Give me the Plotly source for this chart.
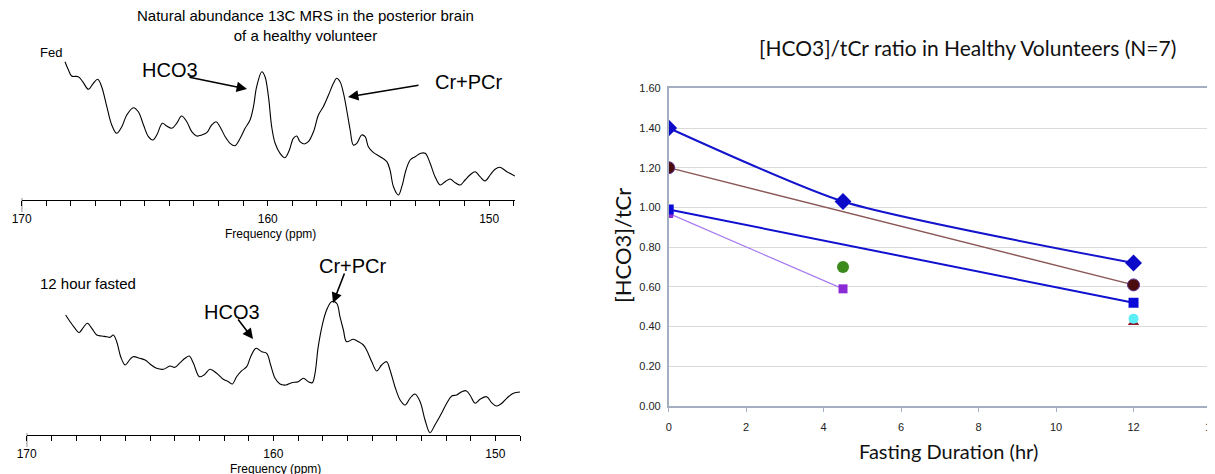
import plotly.graph_objects as go

W, H = 1215, 474
PAGE_OFFSET = 8  # default body margin of the html page

# ---------------- Data ----------------
# Fed spectrum (ppm, intensity in arbitrary units)
fed_ppm = [168.24, 168.10, 167.97, 167.70, 167.52, 167.29, 167.09, 166.91, 166.75, 166.54,
           166.34, 166.14, 165.93, 165.73, 165.46, 165.26, 165.05, 164.85, 164.67, 164.51,
           164.28, 164.11, 163.90, 163.70, 163.50, 163.29, 163.09, 162.89, 162.68, 162.48,
           162.28, 162.10, 161.94, 161.73, 161.53, 161.33, 161.12, 160.92, 160.72, 160.58,
           160.45, 160.24, 160.11, 159.97, 159.84, 159.70, 159.50, 159.30, 159.12, 158.96,
           158.82, 158.69, 158.52, 158.35, 158.14, 157.94, 157.74, 157.53, 157.33, 157.20,
           157.06, 156.92, 156.79, 156.65, 156.52, 156.38, 156.18, 156.04, 155.91, 155.70,
           155.43, 155.16, 155.03, 154.89, 154.69, 154.55, 154.38, 154.21, 154.01, 153.78,
           153.60, 153.40, 153.20, 152.99, 152.79, 152.59, 152.38, 152.18, 151.98, 151.78,
           151.57, 151.37, 151.17, 150.96, 150.76, 150.56, 150.28, 149.95]
fed_int = [138.3, 130.0, 124.0, 123.3, 118.3, 110.7, 116.7, 120.7, 113.3, 93.3,
           75.0, 66.7, 73.3, 85.0, 92.3, 88.3, 75.0, 63.3, 60.0, 65.0,
           76.7, 74.0, 71.7, 76.7, 84.0, 78.3, 68.3, 64.0, 65.0, 67.3,
           75.0, 78.3, 73.3, 63.3, 56.7, 54.3, 61.7, 71.7, 80.0, 93.3,
           113.3, 128.3, 123.3, 103.3, 73.3, 56.7, 46.7, 42.3, 50.0, 61.7,
           64.0, 58.3, 56.0, 58.3, 68.3, 85.0, 93.3, 105.0, 116.7, 121.7,
           118.3, 106.7, 90.0, 70.0, 55.0, 56.7, 65.0, 63.3, 53.3, 47.3,
           43.3, 38.3, 30.0, 13.3, 5.0, 13.3, 30.0, 40.0, 43.3, 46.7,
           46.7, 36.7, 23.3, 15.0, 18.3, 21.0, 17.3, 15.0, 20.0, 25.0,
           28.3, 23.3, 19.0, 25.0, 30.7, 32.7, 28.3, 24.0]

# 12 hour fasted spectrum
fast_ppm = [168.42, 168.24, 168.04, 167.88, 167.70, 167.54, 167.36, 167.16, 166.96, 166.76,
            166.62, 166.49, 166.35, 166.19, 166.01, 165.81, 165.68, 165.41, 165.20, 165.00,
            164.73, 164.46, 164.19, 163.99, 163.78, 163.58, 163.41, 163.24, 163.00, 162.81,
            162.57, 162.30, 162.03, 161.82, 161.66, 161.49, 161.28, 161.08, 160.92, 160.70,
            160.47, 160.27, 160.11, 159.93, 159.73, 159.49, 159.26, 158.99, 158.78, 158.58,
            158.42, 158.31, 158.18, 158.00, 157.84, 157.64, 157.43, 157.30, 157.16, 157.03,
            156.76, 156.55, 156.35, 156.22, 156.01, 155.81, 155.61, 155.41, 155.27, 155.07,
            154.86, 154.66, 154.46, 154.26, 154.05, 153.85, 153.65, 153.45, 153.18, 152.97,
            152.77, 152.57, 152.36, 152.19, 152.03, 151.82, 151.62, 151.35, 151.15, 150.95,
            150.74, 150.54, 150.27, 150.00]
fast_int = [120.0, 113.3, 106.7, 102.3, 107.7, 111.7, 106.7, 100.0, 99.0, 98.3,
            97.7, 100.0, 93.3, 78.3, 70.0, 75.7, 78.3, 76.7, 75.0, 71.0,
            66.7, 65.7, 69.0, 67.7, 72.3, 76.7, 79.0, 71.7, 58.3, 60.0,
            65.7, 61.7, 55.7, 53.3, 51.0, 58.3, 64.3, 68.3, 78.3, 86.7,
            83.3, 81.7, 70.0, 56.7, 51.0, 50.0, 52.3, 53.3, 56.7, 53.3,
            52.3, 61.7, 88.3, 111.7, 125.0, 133.3, 131.7, 118.3, 105.0, 93.3,
            95.7, 93.3, 90.0, 85.0, 73.3, 64.0, 70.0, 73.3, 65.0, 48.3,
            35.0, 30.0, 36.7, 41.0, 33.3, 15.0, 2.3, 10.0, 21.7, 31.7,
            39.0, 40.0, 43.3, 44.3, 40.0, 31.7, 35.7, 38.3, 32.3, 29.0,
            31.7, 36.7, 41.7, 43.0]

# Ratio chart
diamond_x = [0, 4.5, 12]
diamond_y = [1.40, 1.03, 0.72]
brown_x = [0, 12]
brown_y = [1.20, 0.61]
bluesq_x = [0, 12]
bluesq_y = [0.99, 0.52]
purple_x = [0, 4.5]
purple_y = [0.97, 0.59]
green_x = [4.5]
green_y = [0.70]
cyan_x = [12]
cyan_y = [0.44]
tri_x = [12]
tri_y = [0.42]

spec_ticks = list(range(150, 171))
spec_labels = {170: "170", 160: "160", 151: "150"}


def px(x):
    return (x - PAGE_OFFSET) / W


def py(y):
    return (H - (y - PAGE_OFFSET)) / H


fig = go.Figure()

# spectra
fig.add_trace(go.Scatter(x=fed_ppm, y=fed_int, mode="lines", xaxis="x", yaxis="y",
                         line=dict(color="black", width=1.1, shape="spline", smoothing=1.0),
                         showlegend=False, hoverinfo="skip"))
fig.add_trace(go.Scatter(x=fast_ppm, y=fast_int, mode="lines", xaxis="x2", yaxis="y2",
                         line=dict(color="black", width=1.1, shape="spline", smoothing=1.0),
                         showlegend=False, hoverinfo="skip"))

# ratio chart series
fig.add_trace(go.Scatter(x=tri_x, y=tri_y, mode="markers", xaxis="x3", yaxis="y3",
                         marker=dict(symbol="triangle-up", size=10, color="#8B1A2A"),
                         showlegend=False))
fig.add_trace(go.Scatter(x=purple_x, y=purple_y, mode="lines+markers", xaxis="x3", yaxis="y3",
                         line=dict(color="#A77BF0", width=1.2),
                         marker=dict(symbol="square", size=9, color="#8A2BD6"),
                         showlegend=False))
fig.add_trace(go.Scatter(x=bluesq_x, y=bluesq_y, mode="lines+markers", xaxis="x3", yaxis="y3",
                         line=dict(color="#1010D0", width=2),
                         marker=dict(symbol="square", size=10, color="#0A0AD8"),
                         showlegend=False))
fig.add_trace(go.Scatter(x=brown_x, y=brown_y, mode="lines+markers", xaxis="x3", yaxis="y3",
                         line=dict(color="#8A5656", width=1.3),
                         marker=dict(symbol="circle", size=12, color="#4A0C0C",
                                     line=dict(color="#5B2E8E", width=1)),
                         showlegend=False))
fig.add_trace(go.Scatter(x=diamond_x, y=diamond_y, mode="lines+markers", xaxis="x3", yaxis="y3",
                         line=dict(color="#1414CC", width=2, shape="spline", smoothing=0.6),
                         marker=dict(symbol="diamond", size=13, color="#0A0AC8"),
                         showlegend=False))
fig.add_trace(go.Scatter(x=green_x, y=green_y, mode="markers", xaxis="x3", yaxis="y3",
                         marker=dict(symbol="circle", size=12, color="#3C8A1C"),
                         showlegend=False))
fig.add_trace(go.Scatter(x=cyan_x, y=cyan_y, mode="markers", xaxis="x3", yaxis="y3",
                         marker=dict(symbol="circle", size=10, color="#5BEEF6"),
                         showlegend=False))

SPEC_FAM = "Liberation Sans, Arial, sans-serif"
spec_font = dict(family=SPEC_FAM, size=12, color="black")

spec_xaxis = dict(showline=True, linecolor="black", linewidth=1, ticks="outside", ticklen=5,
                  tickcolor="black", tickwidth=1, tickvals=spec_ticks,
                  ticktext=[spec_labels.get(t, "") for t in spec_ticks],
                  showgrid=False, zeroline=False, tickfont=spec_font, ticklabelstandoff=3,
                  automargin=False, fixedrange=True)
spec_yaxis = dict(visible=False, range=[0, 140], showgrid=False, zeroline=False,
                  automargin=False, fixedrange=True)

RIGHT_FAM = "Lato, Open Sans, sans-serif"
TICK_FAM = "Liberation Sans, Arial, sans-serif"

fig.update_layout(
    template="none",
    width=W, height=H, margin=dict(l=0, r=0, t=0, b=0, pad=0),
    paper_bgcolor="white", plot_bgcolor="white",
    xaxis=dict(spec_xaxis, domain=[px(21.7), px(515)], range=[170, 149.95], anchor="y"),
    yaxis=dict(spec_yaxis, domain=[py(200), py(60)], anchor="x"),
    xaxis2=dict(spec_xaxis, domain=[px(26.7), px(520)], range=[170, 150.0], anchor="y2"),
    yaxis2=dict(spec_yaxis, domain=[py(435), py(295)], anchor="x2"),
    xaxis3=dict(domain=[px(668.7), px(1211)], range=[0, 14], dtick=2, anchor="y3",
                showline=True, linecolor="#A3AFC0", linewidth=1.5, mirror=True,
                ticks="outside", ticklen=4, tickcolor="#A3AFC0", showgrid=False, zeroline=False,
                tickfont=dict(family=TICK_FAM, size=11, color="#222"),
                ticklabelstandoff=6, automargin=False),
    yaxis3=dict(domain=[py(406), py(88.3)], range=[0, 1.6], dtick=0.2, tickformat=".2f",
                anchor="x3", showline=True, linecolor="#A3AFC0", linewidth=1.5, mirror=True,
                showgrid=True, gridcolor="#DADADA", gridwidth=1, zeroline=False, ticks="",
                tickfont=dict(family=TICK_FAM, size=11, color="#222"),
                ticklabelstandoff=4, automargin=False),
)

annots = []


def text(t, x, y, size, family=SPEC_FAM, angle=0, color="black"):
    annots.append(dict(text=t, x=px(x), y=py(y), xref="paper", yref="paper",
                       xanchor="center", yanchor="middle", showarrow=False, textangle=angle,
                       font=dict(family=family, size=size, color=color)))


def arrow(x0, y0, x1, y1):
    annots.append(dict(text="", x=px(x1), y=py(y1), xref="paper", yref="paper",
                       ax=x0 - x1, ay=y0 - y1, showarrow=True, arrowhead=2,
                       arrowsize=1.3, arrowwidth=1.6, arrowcolor="black"))


text("Natural abundance 13C MRS in the posterior brain<br>of a healthy volunteer", 305, 26, 15)
text("Fed", 51, 53, 13)
text("HCO3", 170, 70, 20)
text("Cr+PCr", 469, 82, 20)
text("Frequency (ppm)", 270, 233.5, 12)
text("12 hour fasted", 88, 283, 15)
text("HCO3", 232, 312, 20)
text("Cr+PCr", 353, 266, 20)
text("Frequency (ppm)", 275, 468.5, 12)
text("[HCO3]/tCr ratio in Healthy Volunteers (N=7)", 967, 48, 21, family=RIGHT_FAM, color="#111")
text("Fasting Duration (hr)", 948, 451, 20, family=RIGHT_FAM, color="#111")
text("[HCO3]/tCr", 622, 246, 22, family=RIGHT_FAM, angle=-90, color="#111")

arrow(188, 77, 247, 89)
arrow(420, 85, 348, 97)
arrow(237, 318, 253, 339)
arrow(345, 272, 333, 303)

# longer first tick at 170 on each spectrum axis
shapes = [
    dict(type="line", xref="x", yref="paper", x0=170, x1=170, y0=py(212), y1=py(198),
         line=dict(color="black", width=1)),
    dict(type="line", xref="x2", yref="paper", x0=170, x1=170, y0=py(447), y1=py(433),
         line=dict(color="black", width=1)),
]

fig.update_layout(annotations=annots, shapes=shapes)

fig.write_html("out.html")
